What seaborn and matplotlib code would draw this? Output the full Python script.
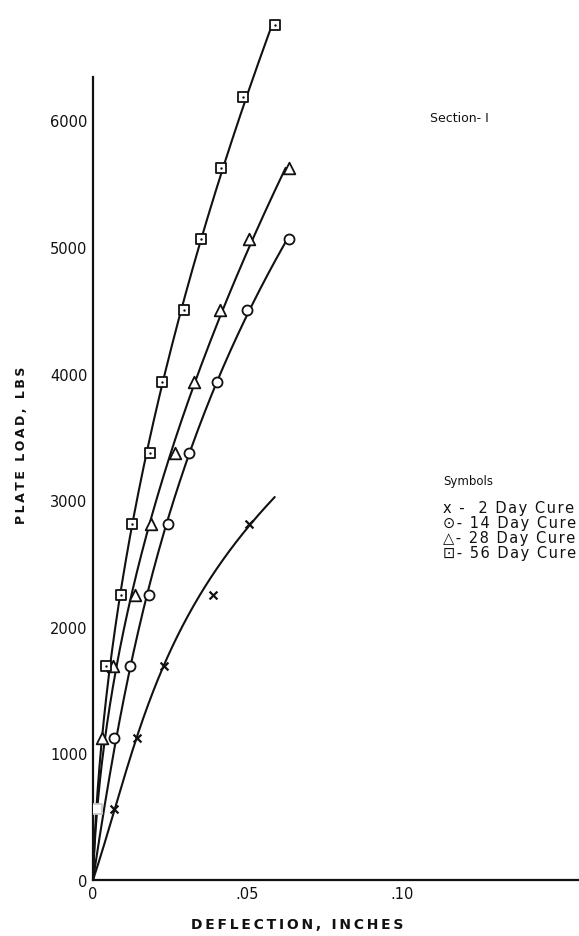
import matplotlib
matplotlib.use("Agg")
import matplotlib.pyplot as plt
import seaborn as sns
import pandas as pd
import numpy as np

sns.set_theme(style="white")
plt.rcParams["font.family"] = ["DejaVu Sans"]

# Measured deflections (inches) at each plate load step (lbs), by cure age
day2_load = [562.5, 1125, 1687.5, 2250, 2812.5]
day2_defl = [0.0068, 0.0142, 0.0230, 0.0388, 0.0505]

day14_load = [1125, 1687.5, 2250, 2812.5, 3375, 3937.5, 4500, 5062.5]
day14_defl = [0.0068, 0.0120, 0.0181, 0.0243, 0.0311, 0.0401, 0.0498, 0.0634]

day28_load = [1125, 1687.5, 2250, 2812.5, 3375, 3937.5, 4500, 5062.5, 5625]
day28_defl = [0.0029, 0.0065, 0.0136, 0.0188, 0.0265, 0.0327, 0.0411, 0.0505, 0.0634]

day56_load = [1687.5, 2250, 2812.5, 3375, 3937.5, 4500, 5062.5, 5625, 6187.5, 6750]
day56_defl = [0.0042, 0.0091, 0.0126, 0.0184, 0.0223, 0.0294, 0.0350, 0.0414, 0.0485, 0.0589]
day56_first_load = [562.5]
day56_first_defl = [0.0013]

# Control points the faired curves are fitted to (load, deflection)
curve2_load = [0, 562.5, 1125, 1687.5, 2250, 2812.5, 3025]
curve2_defl = [0, 0.0068, 0.0142, 0.0230, 0.0346, 0.0505, 0.0592]
curve14_load = [0] + day14_load
curve14_defl = [0] + day14_defl
curve28_load = [0] + day28_load
curve28_defl = [0] + day28_defl
curve56_load = [0, 562.5] + day56_load
curve56_defl = [0, 0.0013] + day56_defl

x_ticks = [0, 0.05, 0.10]
x_tick_labels = ["0", ".05", ".10"]
y_ticks = [0, 1000, 2000, 3000, 4000, 5000, 6000]
y_tick_labels = ["0", "1000", "2000", "3000", "4000", "5000", "6000"]

legend_title = "Symbols"
legend_rows = ["x -  2 Day Cure", "\u2299- 14 Day Cure", "\u25b3- 28 Day Cure", "\u22a1- 56 Day Cure"]


def faired(load, defl, n=300):
    """Least-squares cubic through the origin: deflection as a function of load."""
    L = np.asarray(load, float)
    d = np.asarray(defl, float)
    A = np.column_stack([L, L**2, L**3])
    coef, *_ = np.linalg.lstsq(A, d, rcond=None)
    ls = np.linspace(0, L.max(), n)
    return np.column_stack([ls, ls**2, ls**3]) @ coef, ls


W, H = 579, 937
fig = plt.figure(figsize=(W / 100, H / 100), dpi=100)
fig.patch.set_facecolor("white")
ax = fig.add_axes([93 / W, (H - 881) / H, (W - 93) / W, 881 / H])
ax.set_facecolor("white")

ink = "#111111"
curves = [
    (curve2_load, curve2_defl),
    (curve14_load, curve14_defl),
    (curve28_load, curve28_defl),
    (curve56_load, curve56_defl),
]
for cl, cd in curves:
    fx, fy = faired(cl, cd)
    df = pd.DataFrame({"defl": fx, "load": fy})
    sns.lineplot(data=df, x="defl", y="load", sort=False, estimator=None,
                 color=ink, lw=1.5, ax=ax, zorder=2)


def pts(x, y):
    return pd.DataFrame({"defl": x, "load": y})


sns.scatterplot(data=pts(day2_defl, day2_load), x="defl", y="load", marker="x",
                s=32, color=ink, linewidth=1.6, ax=ax, zorder=4)
sns.scatterplot(data=pts(day14_defl, day14_load), x="defl", y="load", marker="o",
                s=52, facecolor="white", edgecolor=ink, linewidth=1.3, ax=ax, zorder=4)
sns.scatterplot(data=pts(day28_defl, day28_load), x="defl", y="load", marker="^",
                s=70, facecolor="white", edgecolor=ink, linewidth=1.3, ax=ax, zorder=4)
sns.scatterplot(data=pts(day56_defl, day56_load), x="defl", y="load", marker="s",
                s=55, facecolor="white", edgecolor=ink, linewidth=1.3, ax=ax, zorder=4)
sns.scatterplot(data=pts(day56_defl, day56_load), x="defl", y="load", marker="o",
                s=3, color=ink, linewidth=0, ax=ax, zorder=5)
sns.scatterplot(data=pts(day56_first_defl, day56_first_load), x="defl", y="load", marker="s",
                s=55, facecolor="white", edgecolor="#c8c8c8", linewidth=1.3, ax=ax, zorder=4)

ax.set_xlim(0, (W - 93) / 3090)
ax.set_ylim(0, 881 / 0.1266)
ax.set_xticks(x_ticks)
ax.set_xticklabels(x_tick_labels)
ax.set_yticks(y_ticks)
ax.set_yticklabels(y_tick_labels)
ax.tick_params(axis="both", direction="in", length=5, width=1.2, colors=ink,
               labelsize=10.5, pad=4)
ax.set_xlabel("")
ax.set_ylabel("")
for s in ["top", "right"]:
    ax.spines[s].set_visible(False)
for s in ["left", "bottom"]:
    ax.spines[s].set_color(ink)
    ax.spines[s].set_linewidth(1.6)
ax.spines["left"].set_bounds(0, 6346)


def ftext(x, y, s, **kw):
    fig.text(x / W, 1 - y / H, s, color=ink, **kw)


def spaced(s, gap="\u2009"):
    return gap.join(s)


ftext(297, 925, spaced("DEFLECTION, INCHES"), ha="center", va="center",
      fontsize=10, fontweight="bold")
ftext(22, 445, spaced("PLATE LOAD, LBS"), ha="center", va="center",
      rotation=90, fontsize=9, fontweight="bold")
ftext(430, 119, "Section- I", ha="left", va="center", fontsize=9)
ftext(443, 482, legend_title, ha="left", va="center", fontsize=8.5)
for i, row in enumerate(legend_rows):
    ftext(443, 509 + i * 14.7, spaced(row, "\u200a"), ha="left", va="center", fontsize=10.5)

fig.savefig("out.png", dpi=100, facecolor="white")
